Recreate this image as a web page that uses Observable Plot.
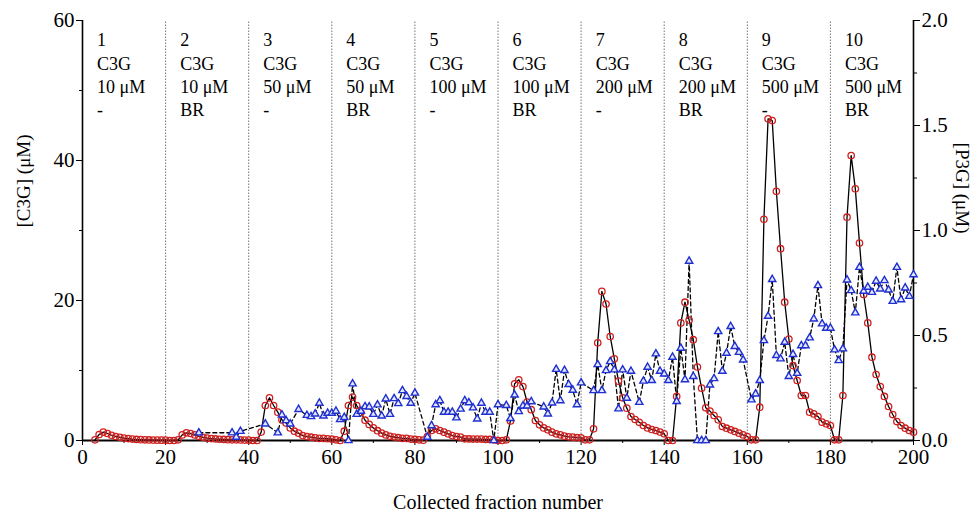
<!DOCTYPE html>
<html>
<head>
<meta charset="utf-8">
<script src="https://cdn.jsdelivr.net/npm/d3@7"></script>
<script src="https://cdn.jsdelivr.net/npm/@observablehq/plot@0.6"></script>
<style>
  html, body { margin: 0; padding: 0; background: #fff; }
  #chart svg { display: block; }
</style>
</head>
<body>
<div id="chart"></div>
<script>
// C3G concentration (µM) for collected fractions 1..200 (null = no sample)
const c3gValues = [
  null, null, 0.1, 0.86, 1.2, 1.0, 0.75, 0.57, 0.45, 0.35, 0.28, 0.2, 0.15, 0.12, 0.1, 0.08, 0.06, 0.05, 0.05, 0.05,
  0, 0, 0.1, 0.8, 1.1, 1.0, 0.8, 0.6, 0.45, 0.35, 0.28, 0.22, 0.18, 0.15, 0.12, 0.1, 0.1, 0.08, 0.06, 0.05,
  0, 0, 1.2, 5.0, 6.1, 5.0, 4.05, 2.95, 2.5, 1.8, 1.33, 1.05, 0.7, 0.56, 0.47, 0.38, 0.3, 0.3, 0.25, 0.2,
  0.1, 0, 1.33, 5.0, 6.2, 5.0, 4.0, 2.9, 2.3, 1.8, 1.4, 1.05, 0.8, 0.6, 0.5, 0.4, 0.3, 0.3, 0.2, 0.15,
  0.1, 0.05, 0.57, 1.43, 1.67, 1.43, 1.19, 0.95, 0.7, 0.57, 0.48, 0.24, 0.22, 0.2, 0.2, 0.2, 0.15, 0.15, 0.1, 0,
  0, 0.1, 2.8, 8.1, 8.67, 7.7, 5.5, 4.4, 2.86, 2.24, 1.8, 1.52, 1.19, 0.95, 0.81, 0.62, 0.52, 0.48, 0.4, 0.38,
  0.1, 0.1, 1.67, 13.95, 21.3, 19.5, 14.86, 11.67, 8.48, 6.1, 4.62, 3.43, 3.0, 2.6, 2.14, 1.8, 1.57, 1.43, 1.2, 0.95,
  0, 0, 6.3, 16.8, 19.76, 17.2, 14.4, 10.5, 7.48, 4.67, 4.2, 3.57, 2.95, 2.0, 1.76, 1.52, 1.29, 1.05, 0.8, 0.57,
  0.1, 0.1, 4.76, 31.6, 45.95, 45.7, 35.6, 27.4, 19.76, 14.5, 10.7, 8.57, 6.43, 6.43, 4.05, 3.8, 3.43, 2.62, 2.38, 2.14,
  0.1, 0.1, 6.43, 31.9, 40.7, 35.95, 28.2, 20.86, 16.8, 11.9, 9.43, 7.71, 6.29, 4.86, 3.71, 2.71, 2.14, 1.76, 1.43, 1.19
];

// P3G concentration (µM), right axis
const p3gFractions = [
  28, 36, 37, 38, 44, 47, 48, 49, 50, 52, 54, 55, 56, 57, 58, 59, 60,
  61, 62, 63, 64, 65, 66, 67, 68, 69, 70, 71, 72, 73, 74, 75, 76, 77, 78, 79, 80,
  83, 84, 85, 86, 87, 88, 89, 90, 91, 92, 93, 94, 95, 96, 97, 98, 99, 100,
  102, 103, 104, 105, 106, 107, 108, 111, 112, 113, 114, 115, 116, 117, 118, 119, 120,
  123, 124, 125, 126, 127, 128, 129, 130, 131, 132, 134, 135, 136, 137, 138, 139, 140,
  141, 142, 143, 144, 145, 146, 147, 148, 149, 150, 151, 152, 153, 154, 155, 156, 157, 158, 159,
  161, 162, 163, 164, 165, 166, 167, 168, 169, 170, 171, 172, 173, 174, 175, 176, 177, 178, 179, 180,
  181, 182, 183, 184, 185, 186, 187, 188, 189, 190, 191, 192, 193, 194, 195, 196, 197, 198, 199, 200
];
const p3gValues = [
  0.037, 0.037, 0.016, 0.044, 0.079, 0.037, 0.122, 0.095, 0.079, 0.148, 0.12, 0.114, 0.127, 0.178, 0.117, 0.13, 0.13,
  0.14, 0.1, 0.11, 0, 0.27, 0.125, 0.14, 0.162, 0.16, 0.125, 0.17, 0.117, 0.198, 0.125, 0.2, 0.176, 0.238, 0.21, 0.178, 0.226,
  0.016, 0.071, 0.171, 0.19, 0.135, 0.135, 0.135, 0.108, 0.15, 0.19, 0.18, 0.156, 0.103, 0.178, 0.135, 0.135, 0, 0.171,
  0.167, 0.105, 0.217, 0.138, 0.165, 0.165, 0.185, 0.16, 0.127, 0.179, 0.339, 0.19, 0.334, 0.267, 0.24, 0.171, 0.275,
  0.238, 0.362, 0.238, 0.333, 0.376, 0.337, 0.151, 0.337, 0.202, 0.33, 0.182, 0.283, 0.349, 0.286, 0.413, 0.33, 0.317,
  0.286, 0.397, 0.186, 0.44, 0.29, 0.854, 0.305, 0, 0, 0, 0.265, 0.295, 0.519, 0.33, 0.416, 0.543, 0.448, 0.42, 0.384,
  0.194, 0.222, 0.286, 0.476, 0.592, 0.767, 0.405, 0.389, 0.468, 0.305, 0.41, 0.32, 0.452, 0.452, 0.489, 0.579, 0.738, 0.556, 0.535, 0.535,
  0.432, 0.381, 0.437, 0.765, 0.714, 0.608, 0.825, 0.711, 0.73, 0.706, 0.759, 0.722, 0.762, 0.717, 0.663, 0.825, 0.671, 0.727, 0.687, 0.79
];

// Experiment labels
const segNumbers = ["1","2","3","4","5","6","7","8","9","10"];
const segCompound = ["C3G","C3G","C3G","C3G","C3G","C3G","C3G","C3G","C3G","C3G"];
const segConc = ["10 μM","10 μM","50 μM","50 μM","100 μM","100 μM","200 μM","200 μM","500 μM","500 μM"];
const segTreatment = ["-","BR","-","BR","-","BR","-","BR","-","BR"];
const segStarts = [0, 20, 40, 60, 80, 100, 120, 140, 160, 180];
const dividers = [20, 40, 60, 80, 100, 120, 140, 160, 180];

const xTicks = [0, 20, 40, 60, 80, 100, 120, 140, 160, 180, 200];
const yLeftTicks = [0, 20, 40, 60];
const yRightTicks = [0, 0.5, 1.0, 1.5, 2.0];

const RATIO = 30; // 2.0 µM P3G maps to 60 µM C3G

const c3g = c3gValues.map((v, i) => ({f: i + 1, v})).filter(d => d.v != null);
const p3g = p3gFractions.map((f, i) => ({f, v: p3gValues[i] * RATIO}));
const segs = segStarts.map((s, i) => ({
  x: s, text: [segNumbers[i], segCompound[i], segConc[i], segTreatment[i]].join("\n")
}));

const font = "Liberation Serif, Times New Roman, serif";

const chart = Plot.plot({
  width: 972,
  height: 515,
  marginLeft: 82,
  marginRight: 59,
  marginTop: 20,
  marginBottom: 75,
  style: {fontFamily: font, background: "#fff", color: "#000"},
  x: {domain: [0, 200]},
  y: {domain: [0, 60]},
  marks: [
    Plot.ruleX(dividers, {y1: 0, y2: 60, stroke: "#666", strokeWidth: 0.9, strokeDasharray: "1.5,1.5"}),
    Plot.axisX({ticks: xTicks, tickSize: 5, tickPadding: 4, fontSize: 21, label: null, tickFormat: d => d}),
    Plot.axisX({ticks: d3.range(10, 200, 20), tickSize: 3, tickFormat: () => "", label: null}),
    Plot.axisY({ticks: yLeftTicks, tickSize: 6, tickPadding: 2, fontSize: 21, label: null, tickFormat: d => d}),
    Plot.axisY({ticks: [10, 30, 50], tickSize: 3, tickFormat: () => "", label: null}),
    Plot.axisY({anchor: "right", ticks: yRightTicks.map(d => d * RATIO), tickSize: 6, tickPadding: 2, fontSize: 21,
      label: null, tickFormat: d => (d / RATIO).toFixed(1)}),
    Plot.axisY({anchor: "right", ticks: [7.5, 22.5, 37.5, 52.5], tickSize: 3, tickFormat: () => "", label: null}),
    Plot.ruleX([0], {y1: 0, y2: 60, stroke: "#000", strokeWidth: 1.6}),
    Plot.ruleX([200], {y1: 0, y2: 60, stroke: "#000", strokeWidth: 1.6}),
    Plot.ruleY([0], {x1: 0, x2: 200, stroke: "#000", strokeWidth: 1.8}),
    Plot.text(segs, {x: d => d.x + 3.5, y: 60, text: "text", textAnchor: "start", lineAnchor: "top",
      dy: 9, fontSize: 18, lineHeight: 1.3, fill: "#000"}),
    Plot.line(c3g, {x: "f", y: "v", stroke: "#000", strokeWidth: 1.3}),
    Plot.line(p3g, {x: "f", y: "v", stroke: "#000", strokeWidth: 1.3, strokeDasharray: "4,3"}),
    Plot.dot(c3g, {x: "f", y: "v", r: 3.2, stroke: "#d02020", strokeWidth: 1.3, fill: "none"}),
    Plot.dot(p3g, {x: "f", y: "v", r: 2.7, symbol: "triangle", stroke: "#1f2fd0", strokeWidth: 1.4, fill: "#e4e8ff"}),
    Plot.text(["[C3G] (μM)"], {frameAnchor: "left", dx: -59, dy: -3, rotate: -90, fontSize: 19, fill: "#000"}),
    Plot.text(["[P3G] (μM)"], {frameAnchor: "right", dx: 49, dy: 3, rotate: 90, fontSize: 19, fill: "#000"}),
    Plot.text(["Collected fraction number"], {frameAnchor: "bottom", dy: 68, fontSize: 20, fill: "#000"})
  ]
});
document.getElementById("chart").appendChild(chart);
</script>
</body>
</html>
